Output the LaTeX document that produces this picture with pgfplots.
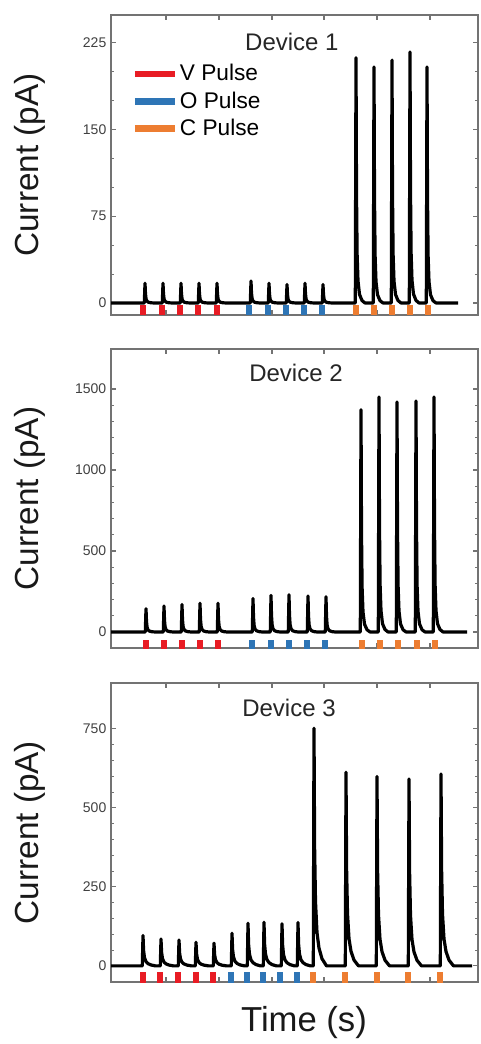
\documentclass[border=0pt]{standalone}
\usepackage{fontspec}
\setmainfont{Liberation Sans}
\usepackage{pgfplots}
\pgfplotsset{compat=1.18}
\definecolor{vred}{RGB}{232,28,36}
\definecolor{oblue}{RGB}{46,117,182}
\definecolor{corange}{RGB}{237,125,49}
\tikzset{devtitle/.style={font=\fontsize{18}{21}\selectfont, text=black!85}}
\pgfplotsset{
  myax/.style={
    scale only axis, width=275.25pt,
    xmin=111, xmax=478,
    axis line style={draw=black!55, line width=0.9pt},
    tick style={draw=black!55, line width=0.8pt},
    tick align=inside,
    xtick={166,219,272,324,377,430}, xticklabels={},
    major tick length=4pt, minor tick length=2.5pt,
    yticklabel style={font=\fontsize{10.5}{12}\selectfont, text=black!75},
    /pgf/number format/assume math mode=true,
    /pgf/number format/1000 sep={},
    unbounded coords=jump,
  },
  trace/.style={black, line width=2.4pt, line join=round},
  pulse/.style={line width=4.8pt, line cap=butt},
}
\begin{document}
\begin{tikzpicture}
\path[use as bounding box] (0,0) rectangle (360pt,-783pt);
% ---------------- Device 1 ----------------
\begin{axis}[myax, at={(83.25pt,-11.25pt)}, anchor=north west, height=225pt,
  ymin=-10.4, ymax=249, ytick={0,75,150,225}, minor y tick num=2,
  legend style={at={(rel axis cs:0.055,0.85)}, anchor=north west, draw=none, fill=none,
    font=\fontsize{17}{20}\selectfont, inner sep=0pt,
    nodes={inner sep=1.5pt, text height=14pt, text depth=3.5pt}},
  legend cell align=left,
  legend image code/.code={\draw[line width=5pt, line cap=butt] (0cm,0cm) -- (1.05cm,0cm);}]
\addplot[pulse, vred] coordinates {(143,-2)(143,-12)(150,nan)(162,-2)(162,-12)(170,nan)(180,-2)(180,-12)(190,nan)(198,-2)(198,-12)(205,nan)(217,-2)(217,-12)};
\addlegendentry{V Pulse}
\addplot[pulse, oblue] coordinates {(249,-2)(249,-12)(255,nan)(268,-2)(268,-12)(275,nan)(286,-2)(286,-12)(295,nan)(304,-2)(304,-12)(310,nan)(322,-2)(322,-12)};
\addlegendentry{O Pulse}
\addplot[pulse, corange] coordinates {(356,-2)(356,-12)(365,nan)(374,-2)(374,-12)(380,nan)(392,-2)(392,-12)(400,nan)(410,-2)(410,-12)(420,nan)(428,-2)(428,-12)};
\addlegendentry{C Pulse}
\addplot[trace, forget plot] coordinates {
(111,0)
(144.3,0)(145,17)(145.5,7.65)(146.1,3.4)(147,1.53)(148.5,0.6)(151,0.17)(154,0)
(162.3,0)(163,17)(163.5,7.65)(164.1,3.4)(165,1.53)(166.5,0.6)(169,0.17)(172,0)
(180.3,0)(181,17)(181.5,7.65)(182.1,3.4)(183,1.53)(184.5,0.6)(187,0.17)(190,0)
(198.3,0)(199,17)(199.5,7.65)(200.1,3.4)(201,1.53)(202.5,0.6)(205,0.17)(208,0)
(216.3,0)(217,17)(217.5,7.65)(218.1,3.4)(219,1.53)(220.5,0.6)(223,0.17)(226,0)
(250.3,0)(251,19)(251.5,8.55)(252.1,3.8)(253,1.71)(254.5,0.67)(257,0.19)(260,0)
(268.3,0)(269,17)(269.5,7.65)(270.1,3.4)(271,1.53)(272.5,0.6)(275,0.17)(278,0)
(286.3,0)(287,16)(287.5,7.2)(288.1,3.2)(289,1.44)(290.5,0.56)(293,0.16)(296,0)
(304.3,0)(305,17)(305.5,7.65)(306.1,3.4)(307,1.53)(308.5,0.6)(311,0.17)(314,0)
(322.3,0)(323,16)(323.5,7.2)(324.1,3.2)(325,1.44)(326.5,0.56)(329,0.16)(332,0)
(355.3,0)(356,212)(356.5,95.4)(357.1,42.4)(358,19.1)(359.5,7.4)(362,2.1)(365,0)
(373.3,0)(374,204)(374.5,91.8)(375.1,40.8)(376,18.4)(377.5,7.1)(380,2.0)(383,0)
(391.3,0)(392,210)(392.5,94.5)(393.1,42)(394,18.9)(395.5,7.35)(398,2.1)(401,0)
(409.3,0)(410,217)(410.5,97.7)(411.1,43.4)(412,19.5)(413.5,7.6)(416,2.2)(419,0)
(426.3,0)(427,204)(427.5,91.8)(428.1,40.8)(429,18.4)(430.5,7.1)(433,2.0)(436,0)
(458,0)};
\node[devtitle] at (rel axis cs:0.493,0.91) {Device 1};
\end{axis}
% ---------------- Device 2 ----------------
\begin{axis}[myax, at={(83.25pt,-261.75pt)}, anchor=north west, height=224.25pt,
  ymin=-99, ymax=1747, ytick={0,500,1000,1500}, minor y tick num=4]
\addplot[pulse, vred] coordinates {(146,-50)(146,-110)(150,nan)(164,-50)(164,-110)(170,nan)(182,-50)(182,-110)(190,nan)(200,-50)(200,-110)(210,nan)(218,-50)(218,-110)};
\addplot[pulse, oblue] coordinates {(252,-50)(252,-110)(260,nan)(271,-50)(271,-110)(280,nan)(289,-50)(289,-110)(300,nan)(307,-50)(307,-110)(315,nan)(325,-50)(325,-110)};
\addplot[pulse, corange] coordinates {(362,-50)(362,-110)(370,nan)(380,-50)(380,-110)(390,nan)(398,-50)(398,-110)(405,nan)(417,-50)(417,-110)(425,nan)(435,-50)(435,-110)};
\addplot[trace] coordinates {
(111,0)
(145.3,0)(146,144)(146.5,64.8)(147.1,28.8)(148,13)(149.5,5)(152,1.4)(155,0)
(163.3,0)(164,160)(164.5,72)(165.1,32)(166,14.4)(167.5,5.6)(170,1.6)(173,0)
(181.3,0)(182,169)(182.5,76)(183.1,33.8)(184,15.2)(185.5,5.9)(188,1.7)(191,0)
(199.3,0)(200,177)(200.5,79.7)(201.1,35.4)(202,15.9)(203.5,6.2)(206,1.8)(209,0)
(217.3,0)(218,177)(218.5,79.7)(219.1,35.4)(220,15.9)(221.5,6.2)(224,1.8)(227,0)
(252.3,0)(253,206)(253.5,92.7)(254.1,41.2)(255,18.5)(256.5,7.2)(259,2.1)(262,0)
(270.3,0)(271,226)(271.5,101.7)(272.1,45.2)(273,20.3)(274.5,7.9)(277,2.3)(280,0)
(288.3,0)(289,230)(289.5,103.5)(290.1,46)(291,20.7)(292.5,8)(295,2.3)(298,0)
(307.3,0)(308,222)(308.5,99.9)(309.1,44.4)(310,20)(311.5,7.8)(314,2.2)(317,0)
(325.3,0)(326,218)(326.5,98.1)(327.1,43.6)(328,19.6)(329.5,7.6)(332,2.2)(335,0)
(360.3,0)(361,1372)(361.5,617)(362.1,274)(363,123)(364.5,48)(367,14)(370,0)
(378.3,0)(379,1451)(379.5,653)(380.1,290)(381,131)(382.5,51)(385,15)(388,0)
(396.3,0)(397,1420)(397.5,639)(398.1,284)(399,128)(400.5,50)(403,14)(406,0)
(415.3,0)(416,1426)(416.5,642)(417.1,285)(418,128)(419.5,50)(422,14)(425,0)
(433.3,0)(434,1451)(434.5,653)(435.1,290)(436,131)(437.5,51)(440,15)(443,0)
(467,0)};
\node[devtitle] at (rel axis cs:0.504,0.92) {Device 2};
\end{axis}
% ---------------- Device 3 ----------------
\begin{axis}[myax, at={(83.25pt,-512.25pt)}, anchor=north west, height=224.25pt,
  ymin=-51, ymax=895, ytick={0,250,500,750}, minor y tick num=4]
\addplot[pulse, vred] coordinates {(143,-20)(143,-60)(150,nan)(160,-20)(160,-60)(170,nan)(178,-20)(178,-60)(185,nan)(196,-20)(196,-60)(205,nan)(213,-20)(213,-60)};
\addplot[pulse, oblue] coordinates {(231,-20)(231,-60)(240,nan)(247,-20)(247,-60)(255,nan)(263,-20)(263,-60)(270,nan)(280,-20)(280,-60)(290,nan)(297,-20)(297,-60)};
\addplot[pulse, corange] coordinates {(313,-20)(313,-60)(330,nan)(345,-20)(345,-60)(360,nan)(377,-20)(377,-60)(390,nan)(408,-20)(408,-60)(420,nan)(440,-20)(440,-60)};
\addplot[trace] coordinates {
(111,0)
(142.3,0)(143,96)(143.6,48)(144.5,25.9)(146,13.4)(148,7.2)(151,2.9)(155.5,0)
(160.3,0)(161,85)(161.6,42.5)(162.5,23)(164,11.9)(166,6.4)(169,2.6)(173.5,0)
(178.3,0)(179,82)(179.6,41)(180.5,22.1)(182,11.5)(184,6.2)(187,2.5)(191.5,0)
(195.3,0)(196,75)(196.6,37.5)(197.5,20.3)(199,10.5)(201,5.6)(204,2.3)(208.5,0)
(213.3,0)(214,72)(214.6,36)(215.5,19.4)(217,10.1)(219,5.4)(222,2.2)(226.5,0)
(231.3,0)(232,103)(232.6,51.5)(233.5,27.8)(235,14.4)(237,7.7)(240,3.1)(244.5,0)
(247.3,0)(248,135)(248.6,67.5)(249.5,36.5)(251,18.9)(253,10.1)(256,4.1)(260.5,0)
(263.3,0)(264,138)(264.6,69)(265.5,37.3)(267,19.3)(269,10.4)(272,4.1)(276.5,0)
(281.3,0)(282,133)(282.6,66.5)(283.5,35.9)(285,18.6)(287,10)(290,4)(294.5,0)
(297.3,0)(298,137)(298.6,68.5)(299.5,37)(301,19.2)(303,10.3)(306,4.1)(310.5,0)
(313.3,0)(314,752)(314.6,376)(315.5,203)(317,105)(319,56)(322,22.6)(326.5,0)
(345.3,0)(346,613)(346.6,306.5)(347.5,165.5)(349,85.8)(351,46)(354,18.4)(358.5,0)
(376.3,0)(377,599)(377.6,299.5)(378.5,161.7)(380,83.9)(382,44.9)(385,18)(389.5,0)
(408.3,0)(409,591)(409.6,295.5)(410.5,159.6)(412,82.7)(414,44.3)(417,17.7)(421.5,0)
(440.3,0)(441,607)(441.6,303.5)(442.5,163.9)(444,85)(446,45.5)(449,18.2)(453.5,0)
(472,0)};
\node[devtitle] at (rel axis cs:0.485,0.916) {Device 3};
\end{axis}
% ---------------- labels ----------------
\node[rotate=90, font=\fontsize{25}{30}\selectfont, text=black!90] at (22.5pt,-123.75pt) {Current (pA)};
\node[rotate=90, font=\fontsize{25}{30}\selectfont, text=black!90] at (22.5pt,-373.9pt) {Current (pA)};
\node[rotate=90, font=\fontsize{25}{30}\selectfont, text=black!90] at (22.5pt,-624.4pt) {Current (pA)};
\node[font=\fontsize{26}{30}\selectfont, text=black!90] at (228pt,-767pt) {Time (s)};
\end{tikzpicture}
\end{document}
